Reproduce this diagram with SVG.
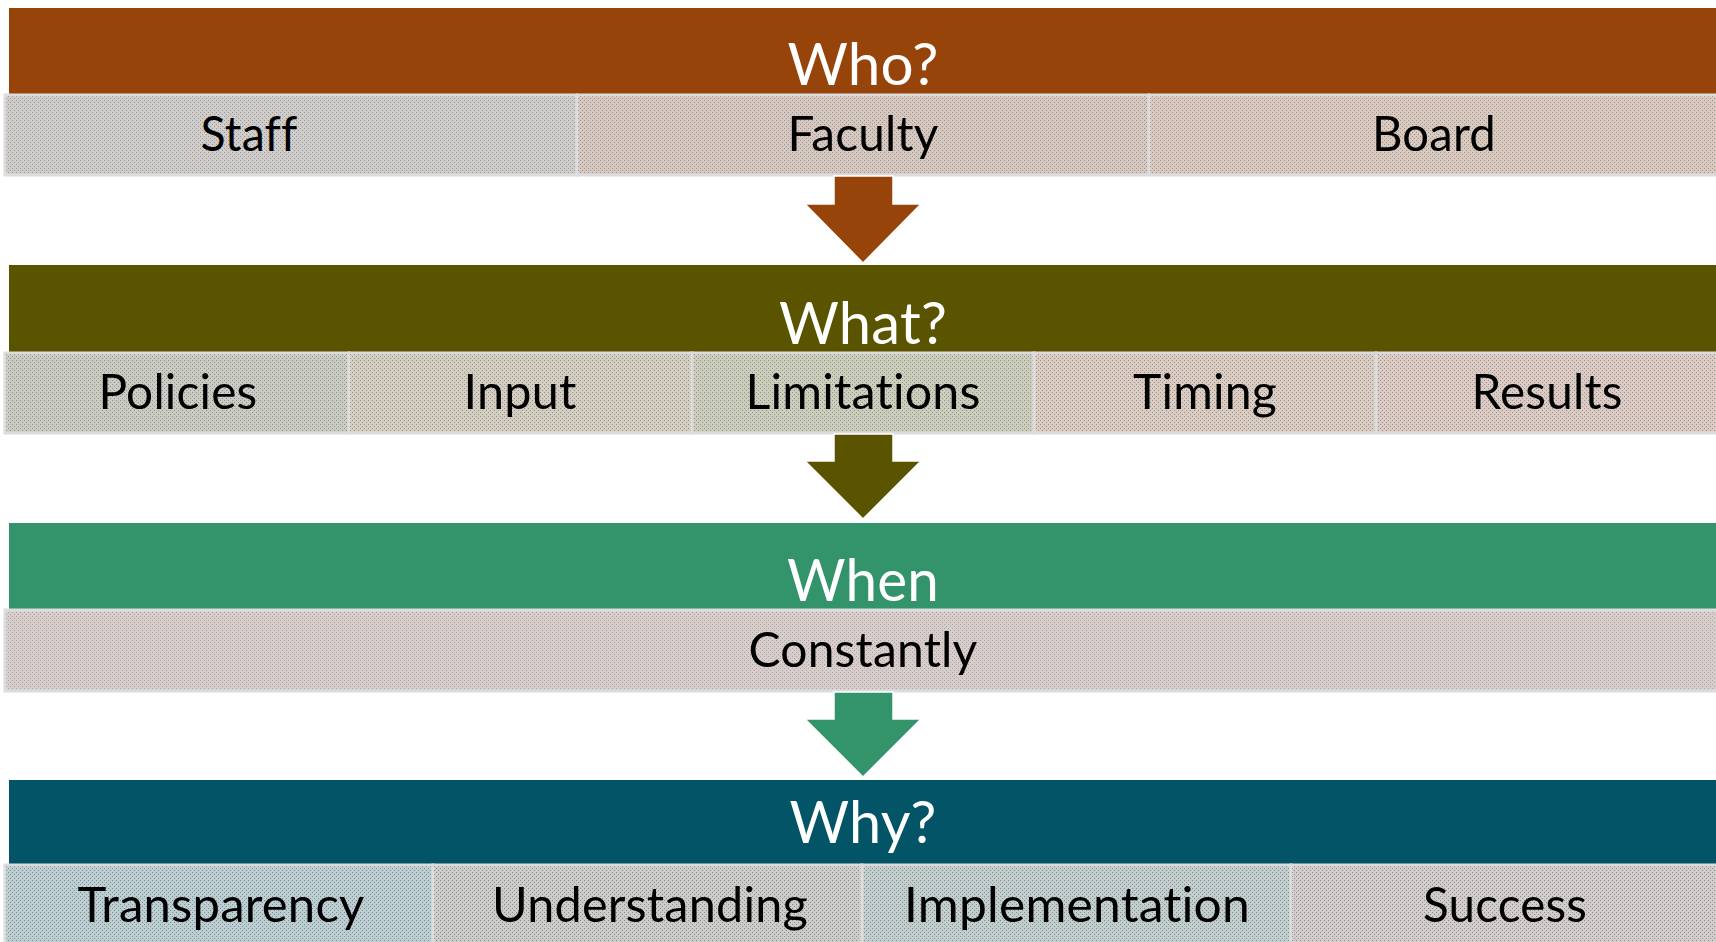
<svg xmlns="http://www.w3.org/2000/svg" width="1716" height="942" viewBox="0 0 1716 942">
<style>
.hdr{font-family:Lato,"Open Sans","Liberation Sans",sans-serif;font-size:58px;fill:#ffffff;text-anchor:middle;letter-spacing:0.2px;font-variant-ligatures:none;font-feature-settings:"liga" 0,"clig" 0,"dlig" 0}
.sub{font-family:Lato,"Open Sans","Liberation Sans",sans-serif;font-size:49px;fill:#000000;text-anchor:middle;letter-spacing:0.2px;font-variant-ligatures:none;font-feature-settings:"liga" 0,"clig" 0,"dlig" 0}
.box{stroke:#dcdcdc;stroke-width:3}
.arrow{stroke:#ffffff;stroke-width:1.5;stroke-linejoin:miter}
</style>
<defs>
<pattern id="d1" width="4" height="4" patternUnits="userSpaceOnUse"><rect x="0" y="0" width="1" height="1" fill="#97440a" opacity="0.45"/><rect x="2" y="2" width="1" height="1" fill="#97440a" opacity="0.45"/></pattern>
<pattern id="d2" width="4" height="4" patternUnits="userSpaceOnUse"><rect x="0" y="0" width="1" height="1" fill="#5a5300" opacity="0.45"/><rect x="2" y="2" width="1" height="1" fill="#5a5300" opacity="0.45"/></pattern>
<pattern id="d3" width="4" height="4" patternUnits="userSpaceOnUse"><rect x="0" y="0" width="1" height="1" fill="#33946c" opacity="0.45"/><rect x="2" y="2" width="1" height="1" fill="#33946c" opacity="0.45"/></pattern>
<pattern id="d4" width="4" height="4" patternUnits="userSpaceOnUse"><rect x="0" y="0" width="1" height="1" fill="#025466" opacity="0.45"/><rect x="2" y="2" width="1" height="1" fill="#025466" opacity="0.45"/></pattern>
</defs>

<g id="who">
<rect x="9" y="8" width="1710" height="86" fill="#97440a"/>
<text class="hdr" x="863" y="85" textLength="151" lengthAdjust="spacingAndGlyphs">Who?</text>
</g>
<g id="staff">
<rect class="box" x="5" y="95" width="572" height="80" fill="#cbcdce"/>
<rect x="6" y="96" width="570" height="78" fill="url(#d1)"/>
<text class="sub" x="249" y="151" textLength="97" lengthAdjust="spacingAndGlyphs">Staff</text>
</g>
<g id="faculty">
<rect class="box" x="577" y="95" width="572" height="80" fill="#d2c9c4"/>
<rect x="578" y="96" width="570" height="78" fill="url(#d1)"/>
<text class="sub" x="863" y="151" textLength="151" lengthAdjust="spacingAndGlyphs">Faculty</text>
</g>
<g id="board">
<rect class="box" x="1149" y="95" width="575" height="80" fill="#d5cbc3"/>
<rect x="1150" y="96" width="572" height="78" fill="url(#d1)"/>
<text class="sub" x="1434" y="151" textLength="124" lengthAdjust="spacingAndGlyphs">Board</text>
</g>

<g id="what">
<rect x="9" y="265" width="1710" height="87" fill="#5a5300"/>
<text class="hdr" x="863" y="344" textLength="168" lengthAdjust="spacingAndGlyphs">What?</text>
</g>
<g id="policies">
<rect class="box" x="5" y="353" width="344" height="80" fill="#c9cbc6"/>
<rect x="6" y="354" width="342" height="78" fill="url(#d2)"/>
<text class="sub" x="178" y="409" textLength="159" lengthAdjust="spacingAndGlyphs">Policies</text>
</g>
<g id="input">
<rect class="box" x="349" y="353" width="343" height="80" fill="#d2cdc5"/>
<rect x="350" y="354" width="341" height="78" fill="url(#d2)"/>
<text class="sub" x="520" y="409" textLength="113" lengthAdjust="spacingAndGlyphs">Input</text>
</g>
<g id="limitations">
<rect class="box" x="692" y="353" width="342" height="80" fill="#cbcdc0"/>
<rect x="693" y="354" width="340" height="78" fill="url(#d2)"/>
<text class="sub" x="863" y="409" textLength="235" lengthAdjust="spacingAndGlyphs">Limitations</text>
</g>
<g id="timing">
<rect class="box" x="1034" y="353" width="342" height="80" fill="#d9cbc5"/>
<rect x="1035" y="354" width="340" height="78" fill="url(#d2)"/>
<text class="sub" x="1205" y="409" textLength="144" lengthAdjust="spacingAndGlyphs">Timing</text>
</g>
<g id="results">
<rect class="box" x="1376" y="353" width="345" height="80" fill="#dacbc8"/>
<rect x="1377" y="354" width="343" height="78" fill="url(#d2)"/>
<text class="sub" x="1547" y="409" textLength="151" lengthAdjust="spacingAndGlyphs">Results</text>
</g>

<g id="when">
<rect x="9" y="523" width="1710" height="87" fill="#33946c"/>
<text class="hdr" x="863" y="601" textLength="152" lengthAdjust="spacingAndGlyphs">When</text>
</g>
<g id="constantly">
<rect class="box" x="5" y="610" width="1716" height="81" fill="#dccbcb"/>
<rect x="6" y="611" width="1714" height="79" fill="url(#d3)"/>
<text class="sub" x="863" y="667" textLength="229" lengthAdjust="spacingAndGlyphs">Constantly</text>
</g>

<g id="why">
<rect x="9" y="780" width="1710" height="85" fill="#025466"/>
<text class="hdr" x="863" y="843" textLength="147" lengthAdjust="spacingAndGlyphs">Why?</text>
</g>
<g id="transparency">
<rect class="box" x="5" y="865" width="428" height="82" fill="#bfccd0"/>
<rect x="6" y="866" width="426" height="80" fill="url(#d4)"/>
<text class="sub" x="221" y="922" textLength="287" lengthAdjust="spacingAndGlyphs">Transparency</text>
</g>
<g id="understanding">
<rect class="box" x="433" y="865" width="429" height="82" fill="#d1cbc8"/>
<rect x="434" y="866" width="427" height="80" fill="url(#d4)"/>
<text class="sub" x="650" y="922" textLength="316" lengthAdjust="spacingAndGlyphs">Understanding</text>
</g>
<g id="implementation">
<rect class="box" x="862" y="865" width="429" height="82" fill="#c4cdcb"/>
<rect x="863" y="866" width="427" height="80" fill="url(#d4)"/>
<text class="sub" x="1077" y="922" textLength="346" lengthAdjust="spacingAndGlyphs">Implementation</text>
</g>
<g id="success">
<rect class="box" x="1291" y="865" width="432" height="82" fill="#d5cbc9"/>
<rect x="1292" y="866" width="430" height="80" fill="url(#d4)"/>
<text class="sub" x="1505" y="922" textLength="164" lengthAdjust="spacingAndGlyphs">Success</text>
</g>

<g id="connectors">
<path class="arrow" d="M834 176 H893 V204 H921 L863 263 L805 204 H834 Z" fill="#97440a"/>
<path class="arrow" d="M834 434 H893 V461 H921 L863 519 L805 461 H834 Z" fill="#5a5300"/>
<path class="arrow" d="M834 692 H893 V719 H921 L863 777 L805 719 H834 Z" fill="#33946c"/>
</g>
</svg>
